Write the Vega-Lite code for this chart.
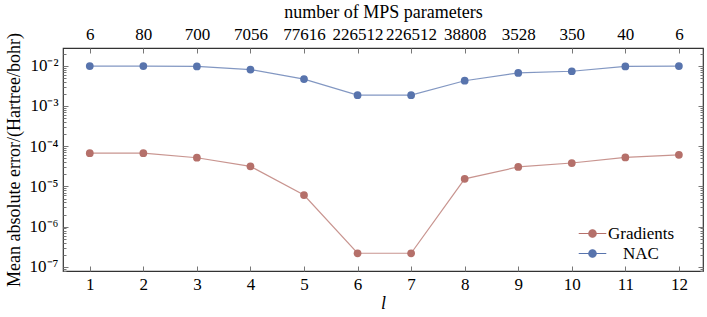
{
  "$schema": "https://vega.github.io/schema/vega-lite/v6.json",
  "width": 707,
  "height": 317,
  "autosize": {"type": "fit", "contains": "padding"},
  "padding": {"left": 5, "right": 3, "top": 3, "bottom": 5},
  "config": {
    "font": "Liberation Serif",
    "view": {"stroke": "#333", "strokeWidth": 1.2},
    "axis": {
      "labelFont": "Liberation Serif",
      "titleFont": "Liberation Serif",
      "labelFontSize": 17,
      "titleFontSize": 18,
      "titleFontWeight": "normal",
      "labelColor": "#000",
      "titleColor": "#000",
      "domain": false,
      "grid": false,
      "tickColor": "#777",
      "labelOverlap": false
    },
    "legend": {"labelFont": "Liberation Serif", "labelFontSize": 17, "labelColor": "#000"}
  },
  "data": {
    "values": [
      {"l": 1, "series": "Gradients", "value": 6.7e-5},
      {"l": 2, "series": "Gradients", "value": 6.7e-5},
      {"l": 3, "series": "Gradients", "value": 5.16e-5},
      {"l": 4, "series": "Gradients", "value": 3.15e-5},
      {"l": 5, "series": "Gradients", "value": 6.08e-6},
      {"l": 6, "series": "Gradients", "value": 2.18e-7},
      {"l": 7, "series": "Gradients", "value": 2.18e-7},
      {"l": 8, "series": "Gradients", "value": 1.54e-5},
      {"l": 9, "series": "Gradients", "value": 3.04e-5},
      {"l": 10, "series": "Gradients", "value": 3.81e-5},
      {"l": 11, "series": "Gradients", "value": 5.26e-5},
      {"l": 12, "series": "Gradients", "value": 6.1e-5},
      {"l": 1, "series": "NAC", "value": 0.0098},
      {"l": 2, "series": "NAC", "value": 0.0098},
      {"l": 3, "series": "NAC", "value": 0.0096},
      {"l": 4, "series": "NAC", "value": 0.008},
      {"l": 5, "series": "NAC", "value": 0.00464},
      {"l": 6, "series": "NAC", "value": 0.00185},
      {"l": 7, "series": "NAC", "value": 0.00185},
      {"l": 8, "series": "NAC", "value": 0.00423},
      {"l": 9, "series": "NAC", "value": 0.00662},
      {"l": 10, "series": "NAC", "value": 0.00727},
      {"l": 11, "series": "NAC", "value": 0.0096},
      {"l": 12, "series": "NAC", "value": 0.0098}
    ]
  },
  "layer": [
    {
      "mark": {"type": "line", "strokeWidth": 1.2, "opacity": 0.75},
      "encoding": {
        "x": {
          "field": "l", "type": "quantitative",
          "scale": {"domain": [0.5, 12.45], "nice": false, "zero": false},
          "axis": {"orient": "bottom", "values": [1,2,3,4,5,6,7,8,9,10,11,12], "tickSize": -5, "labelPadding": 10, "title": "l", "titleFontStyle": "italic", "titlePadding": 2}
        },
        "y": {
          "field": "value", "type": "quantitative",
          "scale": {"type": "log", "domain": [7.9e-8, 0.0275], "nice": false},
          "axis": {
            "orient": "left",
            "values": [8e-8, 9e-8, 1e-7, 2e-7, 3e-7, 4e-7, 5e-7, 6e-7, 7e-7, 8e-7, 9e-7, 1e-6, 2e-6, 3e-6, 4e-6, 5e-6, 6e-6, 7e-6, 8e-6, 9e-6, 1e-5, 2e-5, 3e-5, 4e-5, 5e-5, 6e-5, 7e-5, 8e-5, 9e-5, 1e-4, 2e-4, 3e-4, 4e-4, 5e-4, 6e-4, 7e-4, 8e-4, 9e-4, 1e-3, 2e-3, 3e-3, 4e-3, 5e-3, 6e-3, 7e-3, 8e-3, 9e-3, 1e-2, 2e-2],
            "tickSize": {"condition": {"test": "abs(log(datum.value)/LN10 - round(log(datum.value)/LN10)) < 0.01", "value": -5}, "value": -3},
            "labelExpr": "abs(log(datum.value)/LN10 - round(log(datum.value)/LN10)) < 0.01 ? '10⁻' + ['⁰','¹','²','³','⁴','⁵','⁶','⁷','⁸'][-round(log(datum.value)/LN10)] : ''",
            "labelPadding": 10,
            "title": "Mean absolute error/(Hartree/bohr)",
            "titlePadding": 6
          }
        },
        "color": {
          "field": "series", "type": "nominal",
          "scale": {"domain": ["Gradients", "NAC"], "range": ["#b5706a", "#5874ad"]},
          "legend": {
            "title": null,
            "orient": "none",
            "legendX": 518,
            "legendY": 174,
            "symbolType": "M-1.3,0H1.3M0.35,0A0.35,0.35 0 1 1 -0.35,0A0.35,0.35 0 1 1 0.35,0Z",
            "symbolSize": 450,
            "symbolStrokeWidth": 1.2,
            "symbolOpacity": 1,
            "labelAlign": "center",
            "labelOffset": 37,
            "rowPadding": 0
          }
        }
      }
    },
    {
      "mark": {"type": "point", "filled": true, "size": 60, "opacity": 1},
      "encoding": {
        "x": {"field": "l", "type": "quantitative", "axis": null},
        "y": {"field": "value", "type": "quantitative", "axis": null},
        "color": {"field": "series", "type": "nominal"}
      }
    },
    {
      "mark": {"type": "point", "opacity": 0},
      "encoding": {
        "x": {
          "field": "l", "type": "quantitative",
          "axis": {"orient": "top", "values": [1,2,3,4,5,6,7,8,9,10,11,12], "tickSize": -5, "labelPadding": 10, "title": "number of MPS parameters", "titlePadding": 4,
            "labelExpr": "['','6','80','700','7056','77616','226512','226512','38808','3528','350','40','6'][datum.value]"}
        },
        "y": {
          "field": "value", "type": "quantitative",
          "axis": {
            "orient": "right",
            "values": [8e-8, 9e-8, 1e-7, 2e-7, 3e-7, 4e-7, 5e-7, 6e-7, 7e-7, 8e-7, 9e-7, 1e-6, 2e-6, 3e-6, 4e-6, 5e-6, 6e-6, 7e-6, 8e-6, 9e-6, 1e-5, 2e-5, 3e-5, 4e-5, 5e-5, 6e-5, 7e-5, 8e-5, 9e-5, 1e-4, 2e-4, 3e-4, 4e-4, 5e-4, 6e-4, 7e-4, 8e-4, 9e-4, 1e-3, 2e-3, 3e-3, 4e-3, 5e-3, 6e-3, 7e-3, 8e-3, 9e-3, 1e-2, 2e-2],
            "tickSize": {"condition": {"test": "abs(log(datum.value)/LN10 - round(log(datum.value)/LN10)) < 0.01", "value": -5}, "value": -3},
            "labels": false,
            "title": null
          }
        }
      }
    }
  ],
  "resolve": {"axis": {"x": "independent", "y": "independent"}}
}
